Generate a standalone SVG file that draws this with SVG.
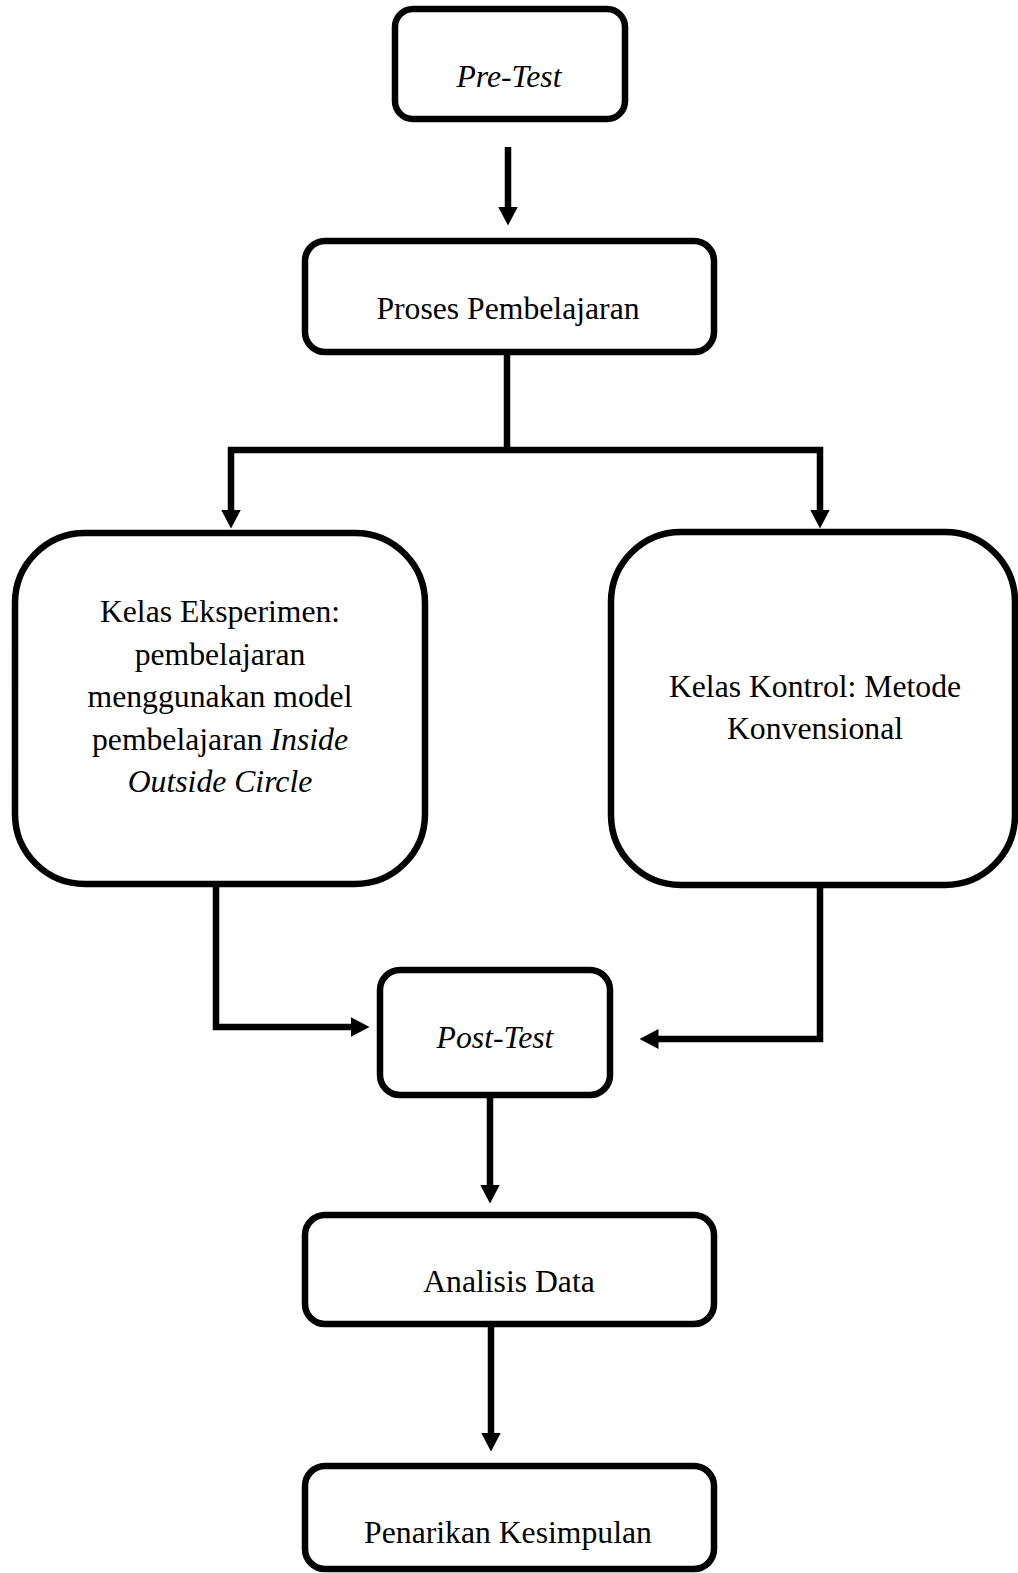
<svg xmlns="http://www.w3.org/2000/svg" width="1018" height="1573" viewBox="0 0 1018 1573">
<style>
.box{fill:#fff;stroke:#000;stroke-width:6.5}
.t{font-family:"Liberation Serif","Times New Roman",serif;font-size:31.7px;fill:#000;text-anchor:middle}
.i{font-style:italic}
.c{fill:none;stroke:#000;stroke-width:6.5;stroke-linejoin:miter;stroke-linecap:butt}
</style>
<defs>
<marker id="ah" markerUnits="userSpaceOnUse" viewBox="0 0 19 20" refX="0.5" refY="10" markerWidth="19" markerHeight="20" orient="auto">
<path d="M0,0 L19,10 L0,20 Z" fill="#000"/>
</marker>
</defs>
<rect width="1018" height="1573" fill="#fff"/>
<g id="connectors">
<path class="c" d="M508,147 V207" marker-end="url(#ah)"/>
<path class="c" d="M507,355 V450"/>
<path class="c" d="M507,450 H231 V510" marker-end="url(#ah)"/>
<path class="c" d="M507,450 H820 V510" marker-end="url(#ah)"/>
<path class="c" d="M216,887 V1027 H351" marker-end="url(#ah)"/>
<path class="c" d="M820,888 V1039 H658" marker-end="url(#ah)"/>
<path class="c" d="M490,1097 V1185" marker-end="url(#ah)"/>
<path class="c" d="M491,1327 V1433" marker-end="url(#ah)"/>
</g>
<g id="pretest">
<rect class="box" x="395" y="9" width="230" height="110" rx="18"/>
<text class="t i" x="509" y="87">Pre-Test</text>
</g>
<g id="proses">
<rect class="box" x="305" y="241" width="409" height="111" rx="20"/>
<text class="t" x="508" y="319">Proses Pembelajaran</text>
</g>
<g id="eksperimen">
<rect class="box" x="15" y="533" width="410" height="351" rx="70"/>
<text class="t" x="220" y="622">Kelas Eksperimen:</text>
<text class="t" x="220" y="664.5">pembelajaran</text>
<text class="t" x="220" y="707">menggunakan model</text>
<text class="t" x="220" y="749.5">pembelajaran <tspan class="i">Inside</tspan></text>
<text class="t i" x="220" y="792">Outside Circle</text>
</g>
<g id="kontrol">
<rect class="box" x="611" y="532" width="404" height="353" rx="70"/>
<text class="t" x="815" y="697">Kelas Kontrol: Metode</text>
<text class="t" x="815" y="739">Konvensional</text>
</g>
<g id="posttest">
<rect class="box" x="380" y="970" width="230" height="125" rx="20"/>
<text class="t i" x="495" y="1048">Post-Test</text>
</g>
<g id="analisis">
<rect class="box" x="305" y="1215" width="409" height="109" rx="20"/>
<text class="t" x="509" y="1292">Analisis Data</text>
</g>
<g id="kesimpulan">
<rect class="box" x="305" y="1466" width="409" height="103" rx="20"/>
<text class="t" x="508" y="1543">Penarikan Kesimpulan</text>
</g>
</svg>
